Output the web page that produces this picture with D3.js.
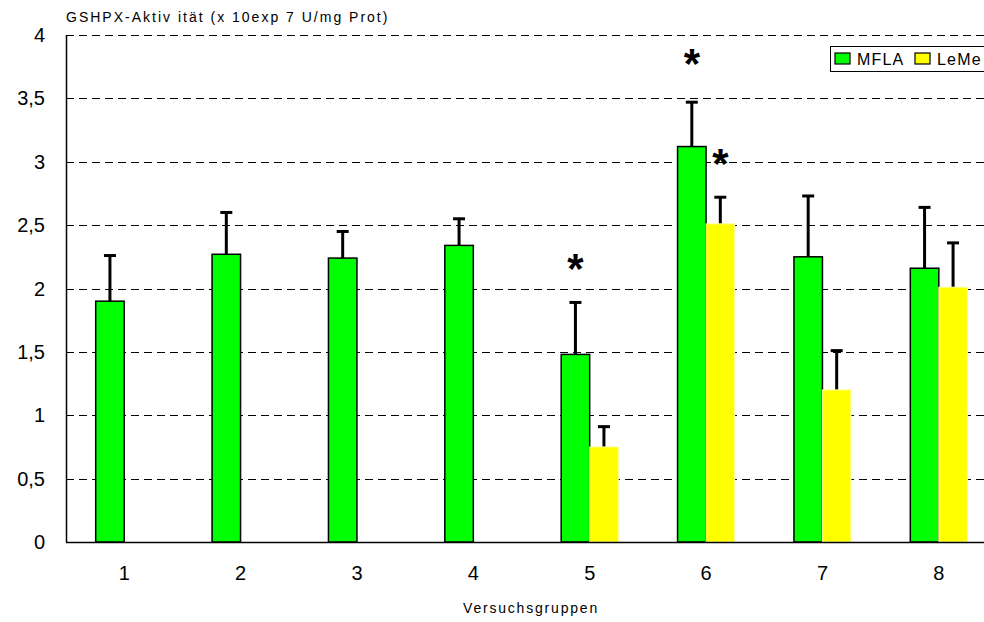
<!DOCTYPE html>
<html>
<head>
<meta charset="utf-8">
<script src="https://cdn.jsdelivr.net/npm/d3@7"></script>
<style>
  body { margin: 0; background: #fff; }
  svg { display: block; font-family: Arial, "Liberation Sans", sans-serif; }
</style>
</head>
<body>
<svg id="chart" width="984" height="622"></svg>
<script>
// Daten
const groups = ["1", "2", "3", "4", "5", "6", "7", "8"];
const mflaValues = [1.90, 2.27, 2.24, 2.34, 1.48, 3.12, 2.25, 2.16];
const mflaErrTop = [2.26, 2.60, 2.45, 2.55, 1.89, 3.47, 2.73, 2.64];
const lemeValues = [null, null, null, null, 0.75, 2.51, 1.20, 2.01];
const lemeErrTop = [null, null, null, null, 0.91, 2.72, 1.51, 2.36];
const yTicks = [0, 0.5, 1, 1.5, 2, 2.5, 3, 3.5, 4];
const yTickLabels = ["0", "0,5", "1", "1,5", "2", "2,5", "3", "3,5", "4"];
// Sternchen: Gruppe, Reihe, y-Wert (Mitte)
const stars = [
  { group: "5", series: "MFLA", y: 2.24 },
  { group: "6", series: "MFLA", y: 3.86 },
  { group: "6", series: "LeMe", y: 3.07 }
];
const seriesNames = ["MFLA", "LeMe"];
const seriesColors = { MFLA: "#00ff00", LeMe: "#ffff00" };

const svg = d3.select("#chart");
const margin = { left: 66, top: 35, right: -13, bottom: 80 };
const W = 984, H = 622;
const x0 = margin.left, x1 = W - margin.right;
const yTop = margin.top, yBot = H - margin.bottom;

const x = d3.scaleBand().domain(groups).range([x0, x1]).padding(0);
const xs = d3.scaleBand().domain(seriesNames).range([0, 57]).padding(0);
const y = d3.scaleLinear().domain([0, 4]).range([yBot, yTop]);
const barOffset = x.bandwidth() / 2 - 28.5;

// Gitterlinien
svg.append("g")
  .selectAll("line")
  .data(yTicks.filter(t => t > 0))
  .join("line")
  .attr("x1", x0).attr("x2", x1)
  .attr("y1", d => Math.round(y(d)) + 0.5).attr("y2", d => Math.round(y(d)) + 0.5)
  .attr("stroke", "#000")
  .attr("stroke-width", 1)
  .attr("stroke-dasharray", "8,5");

// Balken
const rows = [];
groups.forEach((g, i) => {
  rows.push({ g, s: "MFLA", v: mflaValues[i], e: mflaErrTop[i] });
  if (lemeValues[i] != null) rows.push({ g, s: "LeMe", v: lemeValues[i], e: lemeErrTop[i] });
});

const gBars = svg.append("g");
rows.forEach(r => {
  const bx = x(r.g) + barOffset + xs(r.s);
  const cx = bx + xs.bandwidth() / 2;
  // Fehlerbalken
  gBars.append("line")
    .attr("x1", cx).attr("x2", cx)
    .attr("y1", y(r.v)).attr("y2", y(r.e))
    .attr("stroke", "#000").attr("stroke-width", 3);
  gBars.append("line")
    .attr("x1", cx - 6).attr("x2", cx + 6)
    .attr("y1", y(r.e)).attr("y2", y(r.e))
    .attr("stroke", "#000").attr("stroke-width", 3);
  gBars.append("rect")
    .attr("x", bx)
    .attr("y", y(r.v))
    .attr("width", xs.bandwidth())
    .attr("height", y(0) - y(r.v))
    .attr("fill", seriesColors[r.s])
    .attr("stroke", r.s === "MFLA" ? "#000" : "#ffff99")
    .attr("stroke-width", r.s === "MFLA" ? 1.5 : 1);
});

// Achsen
svg.append("line")
  .attr("x1", x0 + 0.5).attr("x2", x0 + 0.5)
  .attr("y1", yTop).attr("y2", yBot)
  .attr("stroke", "#000").attr("stroke-width", 1.5);
svg.append("line")
  .attr("x1", x0).attr("x2", x1)
  .attr("y1", yBot + 0.5).attr("y2", yBot + 0.5)
  .attr("stroke", "#000").attr("stroke-width", 1.5);

// Y-Beschriftung
svg.append("g")
  .selectAll("text")
  .data(yTicks)
  .join("text")
  .attr("x", 45)
  .attr("y", d => y(d))
  .attr("dy", "0.35em")
  .attr("text-anchor", "end")
  .style("font-size", "20px")
  .text((d, i) => yTickLabels[i]);

// X-Beschriftung
svg.append("g")
  .selectAll("text")
  .data(groups)
  .join("text")
  .attr("x", d => x(d) + x.bandwidth() / 2)
  .attr("y", 580)
  .attr("text-anchor", "middle")
  .style("font-size", "20px")
  .text(d => d);

// Sternchen
svg.append("g")
  .selectAll("text")
  .data(stars)
  .join("text")
  .attr("x", d => x(d.group) + barOffset + xs(d.series) + xs.bandwidth() / 2)
  .attr("y", d => y(d.y))
  .attr("dy", "0.6em")
  .attr("text-anchor", "middle")
  .style("font-size", "42px")
  .style("font-weight", "bold")
  .text("*");

// Titel
svg.append("text")
  .attr("x", 66).attr("y", 22)
  .style("font-size", "14px")
  .style("letter-spacing", "2px")
  .text("GSHPX-Aktiv ität (x 10exp 7 U/mg Prot)");

svg.append("text")
  .attr("x", 531).attr("y", 613)
  .attr("text-anchor", "middle")
  .style("font-size", "14px")
  .style("letter-spacing", "1.8px")
  .text("Versuchsgruppen");

// Legende
const leg = svg.append("g").attr("transform", "translate(830,46)");
leg.append("rect")
  .attr("x", 0.5).attr("y", 0.5)
  .attr("width", 170).attr("height", 25)
  .attr("fill", "#fff").attr("stroke", "#000");
const legX = [5, 85];
seriesNames.forEach((s, i) => {
  leg.append("rect")
    .attr("x", legX[i]).attr("y", 7)
    .attr("width", 15).attr("height", 11)
    .attr("fill", seriesColors[s]).attr("stroke", "#000").attr("stroke-width", 1.2);
  leg.append("text")
    .attr("x", legX[i] + 22).attr("y", 13)
    .attr("dy", "0.35em")
    .style("font-size", "16px")
    .style("letter-spacing", "1.2px")
    .text(s);
});
</script>
</body>
</html>
